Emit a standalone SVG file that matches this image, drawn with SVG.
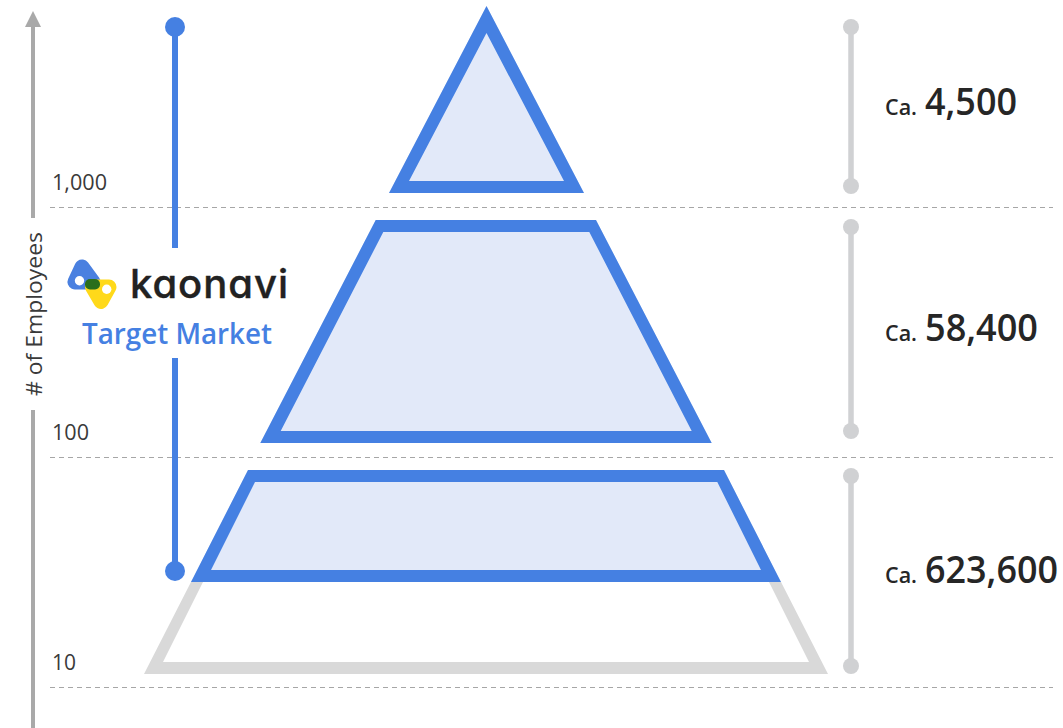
<svg xmlns="http://www.w3.org/2000/svg" width="1063" height="728" viewBox="0 0 1063 728">
<style>
text{font-family:"Open Sans","Noto Sans","Liberation Sans",sans-serif;fill:#262626}
.dash{stroke:#a6a6a6;stroke-width:1;stroke-dasharray:5 4;fill:none}
.axis{stroke:#a9a9a9;stroke-width:4;fill:none}
.blue{stroke:#4580e2;stroke-width:6;fill:none}
.dot{fill:#4580e2}
.gl{stroke:#d0d1d3;stroke-width:5.5;fill:none}
.gd{fill:#d0d1d3}
.lvl{fill:#4580e2;fill-rule:evenodd}
.in{fill:#e2e9f9}
.tick{font-size:22px;font-weight:400;fill:#3a3a3a}
.ca{font-size:22px;font-weight:600}
.num{font-size:37px;font-weight:600}
</style>
<rect width="1063" height="728" fill="#fff"/>
<g id="connectors">
<path class="dash" d="M50 207.5H1053M50 457.5H1053M50 687.5H1053"/>
<path class="axis" d="M33 218V26M33 410V728"/>
<path d="M33 11L41 27H25Z" fill="#a9a9a9"/>
<path class="blue" d="M175 27V248M175 358V571"/>
<circle class="dot" cx="175" cy="27" r="10"/><circle class="dot" cx="175" cy="571" r="10"/>
<path class="gl" d="M851 27V186M851 227V431M851 476V666"/>
<circle class="gd" cx="851" cy="27" r="8"/><circle class="gd" cx="851" cy="186" r="8"/>
<circle class="gd" cx="851" cy="227" r="8"/><circle class="gd" cx="851" cy="431" r="8"/>
<circle class="gd" cx="851" cy="476" r="8"/><circle class="gd" cx="851" cy="666" r="8"/>
</g>
<g id="level-base">
<path fill="#d9d9d9" fill-rule="evenodd" d="M191 582L144 674H828L781 582H769L809 662H163L203 582Z"/>
</g>
<g id="level-top">
<path class="in" d="M486.5 6L584 193H389Z"/>
<path class="lvl" d="M486.5 6L584 193H389ZM486.5 33L409 181H564Z"/>
</g>
<g id="level-middle">
<path class="in" d="M375.7 220H596L711.7 443H260.3Z"/>
<path class="lvl" d="M375.7 220H596L711.7 443H260.3ZM383.3 232L280.7 431H691.7L589.3 232Z"/>
</g>
<g id="level-lower">
<path class="in" d="M248 470H724L781 582H191Z"/>
<path class="lvl" d="M248 470H724L781 582H191ZM255 482L211 570H761L717.3 482Z"/>
</g>
<g id="axis-labels">
<text class="tick" x="52" y="190" textLength="55" lengthAdjust="spacingAndGlyphs">1,000</text>
<text class="tick" x="52" y="440" textLength="37" lengthAdjust="spacingAndGlyphs">100</text>
<text class="tick" x="52" y="670" textLength="24" lengthAdjust="spacingAndGlyphs">10</text>
<text class="tick" transform="translate(42 396) rotate(-90)" style="font-size:21px" textLength="164" lengthAdjust="spacingAndGlyphs"># of Employees</text>
</g>
<g id="logo">
<path d="M82 267L75 282H93Z" fill="#4a80e0" stroke="#4a80e0" stroke-width="15" stroke-linejoin="round"/>
<path d="M92.5 287H109L101 301.5Z" fill="#ffd91a" stroke="#ffd91a" stroke-width="15" stroke-linejoin="round"/>
<rect x="85" y="279" width="15" height="10.5" rx="5" fill="#2a6e1c"/>
<circle cx="79.5" cy="280.7" r="4.7" fill="#fff"/>
<circle cx="106.7" cy="289.3" r="4.7" fill="#fff"/>
<text x="130" y="298" style="font-family:Inter,Lato,sans-serif;fill:#222;font-feature-settings:'cv11'" font-size="40" font-weight="500" stroke="#222" stroke-width=".4" textLength="158">kaonavi</text>
<text x="82" y="344" style="fill:#4580e2" font-size="28" font-weight="600" textLength="190" lengthAdjust="spacingAndGlyphs">Target Market</text>
</g>
<g id="count-top">
<text class="ca" x="885" y="115" textLength="32" lengthAdjust="spacingAndGlyphs">Ca.</text>
<text class="num" x="925" y="115" textLength="92" lengthAdjust="spacingAndGlyphs">4,500</text>
</g>
<g id="count-middle">
<text class="ca" x="885" y="341" textLength="32" lengthAdjust="spacingAndGlyphs">Ca.</text>
<text class="num" x="925" y="341" textLength="113" lengthAdjust="spacingAndGlyphs">58,400</text>
</g>
<g id="count-lower">
<text class="ca" x="885" y="583" textLength="32" lengthAdjust="spacingAndGlyphs">Ca.</text>
<text class="num" x="925" y="583" textLength="133" lengthAdjust="spacingAndGlyphs">623,600</text>
</g>
</svg>
